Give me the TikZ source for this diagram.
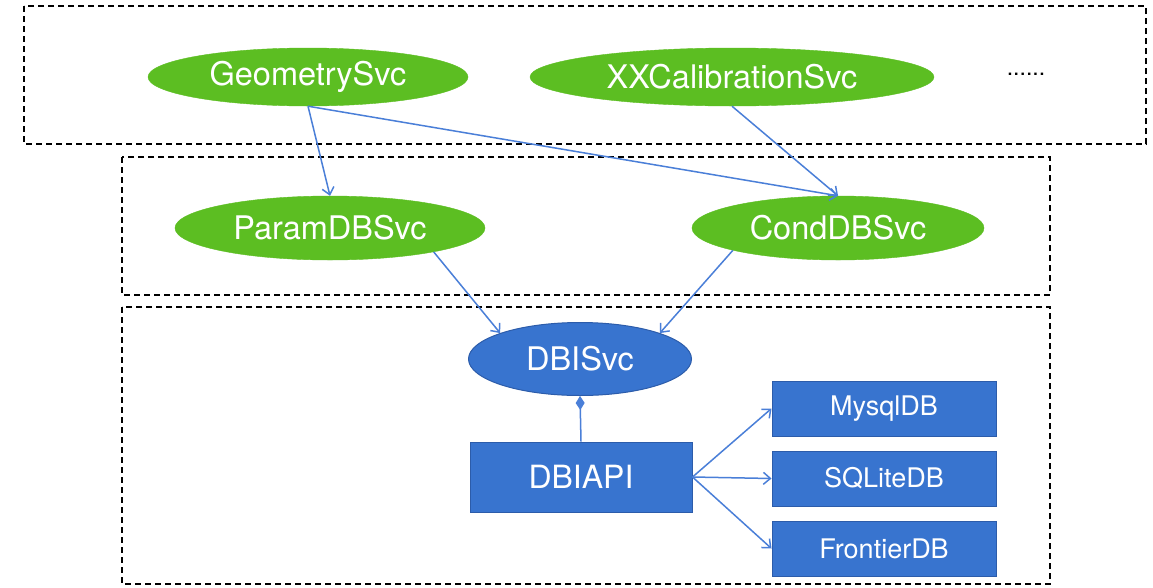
\documentclass[tikz,border=0pt]{standalone}
\usepackage{fontspec}
\setmainfont{TeX Gyre Heros}
\usetikzlibrary{shapes.geometric,arrows.meta}
\definecolor{svcgreen}{RGB}{92,190,34}
\definecolor{dbblue}{RGB}{56,116,207}
\definecolor{dbborder}{RGB}{44,92,170}
\definecolor{linkblue}{RGB}{74,127,216}
\begin{document}
\begin{tikzpicture}[x=1pt,y=-1pt,
  layerbox/.style={draw=black,line width=1.3pt,dash pattern=on 6pt off 4pt},
  greensvc/.style={ellipse,fill=svcgreen,draw=svcgreen,text=white,inner sep=0pt,
     minimum height=58pt,font=\fontsize{32.5}{36}\selectfont},
  bluesvc/.style={ellipse,fill=dbblue,draw=dbborder,line width=1pt,text=white,inner sep=0pt,
     font=\fontsize{32.5}{36}\selectfont},
  bluebox/.style={rectangle,fill=dbblue,draw=dbborder,line width=1pt,text=white,inner sep=0pt},
  link/.style={draw=linkblue,line width=1.5pt,-{Straight Barb[length=7pt,width=12pt]}},
  aggr/.style={draw=linkblue,line width=1.5pt,-{Diamond[length=14pt,width=9pt,fill=linkblue]}},
]
\useasboundingbox (0,0) rectangle (1153,587);
\fill[white] (0,0) rectangle (1153,587);

% layer boxes
\draw[layerbox] (24,6) rectangle (1146,144);
\draw[layerbox] (122,157) rectangle (1050,295);
\draw[layerbox] (122,307) rectangle (1050,584);

% nodes
\node[greensvc,minimum width=320pt] (geo) at (308,77) {GeometrySvc};
\node[greensvc,minimum width=404pt] (xx) at (732,77) {XXCalibrationSvc};
\node[font=\fontsize{23}{26}\selectfont] (dots) at (1026,74) {......};
\node[greensvc,minimum width=310pt,minimum height=64pt] (param) at (330,228) {ParamDBSvc};
\node[greensvc,minimum width=292pt,minimum height=64pt] (cond) at (838,228) {CondDBSvc};
\node[bluesvc,minimum width=223pt,minimum height=73pt] (dbisvc) at (580,359) {DBISvc};
\node[bluebox,minimum width=222pt,minimum height=70pt,font=\fontsize{32}{36}\selectfont] (dbiapi) at (581,477) {DBIAPI};
\node[bluebox,minimum width=224pt,minimum height=55pt,font=\fontsize{27}{30}\selectfont] (mysql) at (884,408.5) {MysqlDB};
\node[bluebox,minimum width=224pt,minimum height=55pt,font=\fontsize{27}{30}\selectfont] (sqlite) at (884,478.5) {SQLiteDB};
\node[bluebox,minimum width=224pt,minimum height=55pt,font=\fontsize{27}{30}\selectfont] (frontier) at (884,548.5) {FrontierDB};

% connectors
\draw[link] (geo.south) -- (param.north);
\draw[link] (geo.south) -- (cond.north);
\draw[link] (xx.south) -- (cond.north);
\draw[link] (param.-13) -- (dbisvc.162);
\draw[link] (cond.-168) -- (dbisvc.18);
\draw[aggr] (dbiapi.north) -- (dbisvc.south);
\draw[link] (dbiapi.east) -- (mysql.west);
\draw[link] (dbiapi.east) -- (sqlite.west);
\draw[link] (dbiapi.east) -- (frontier.west);
\end{tikzpicture}
\end{document}
